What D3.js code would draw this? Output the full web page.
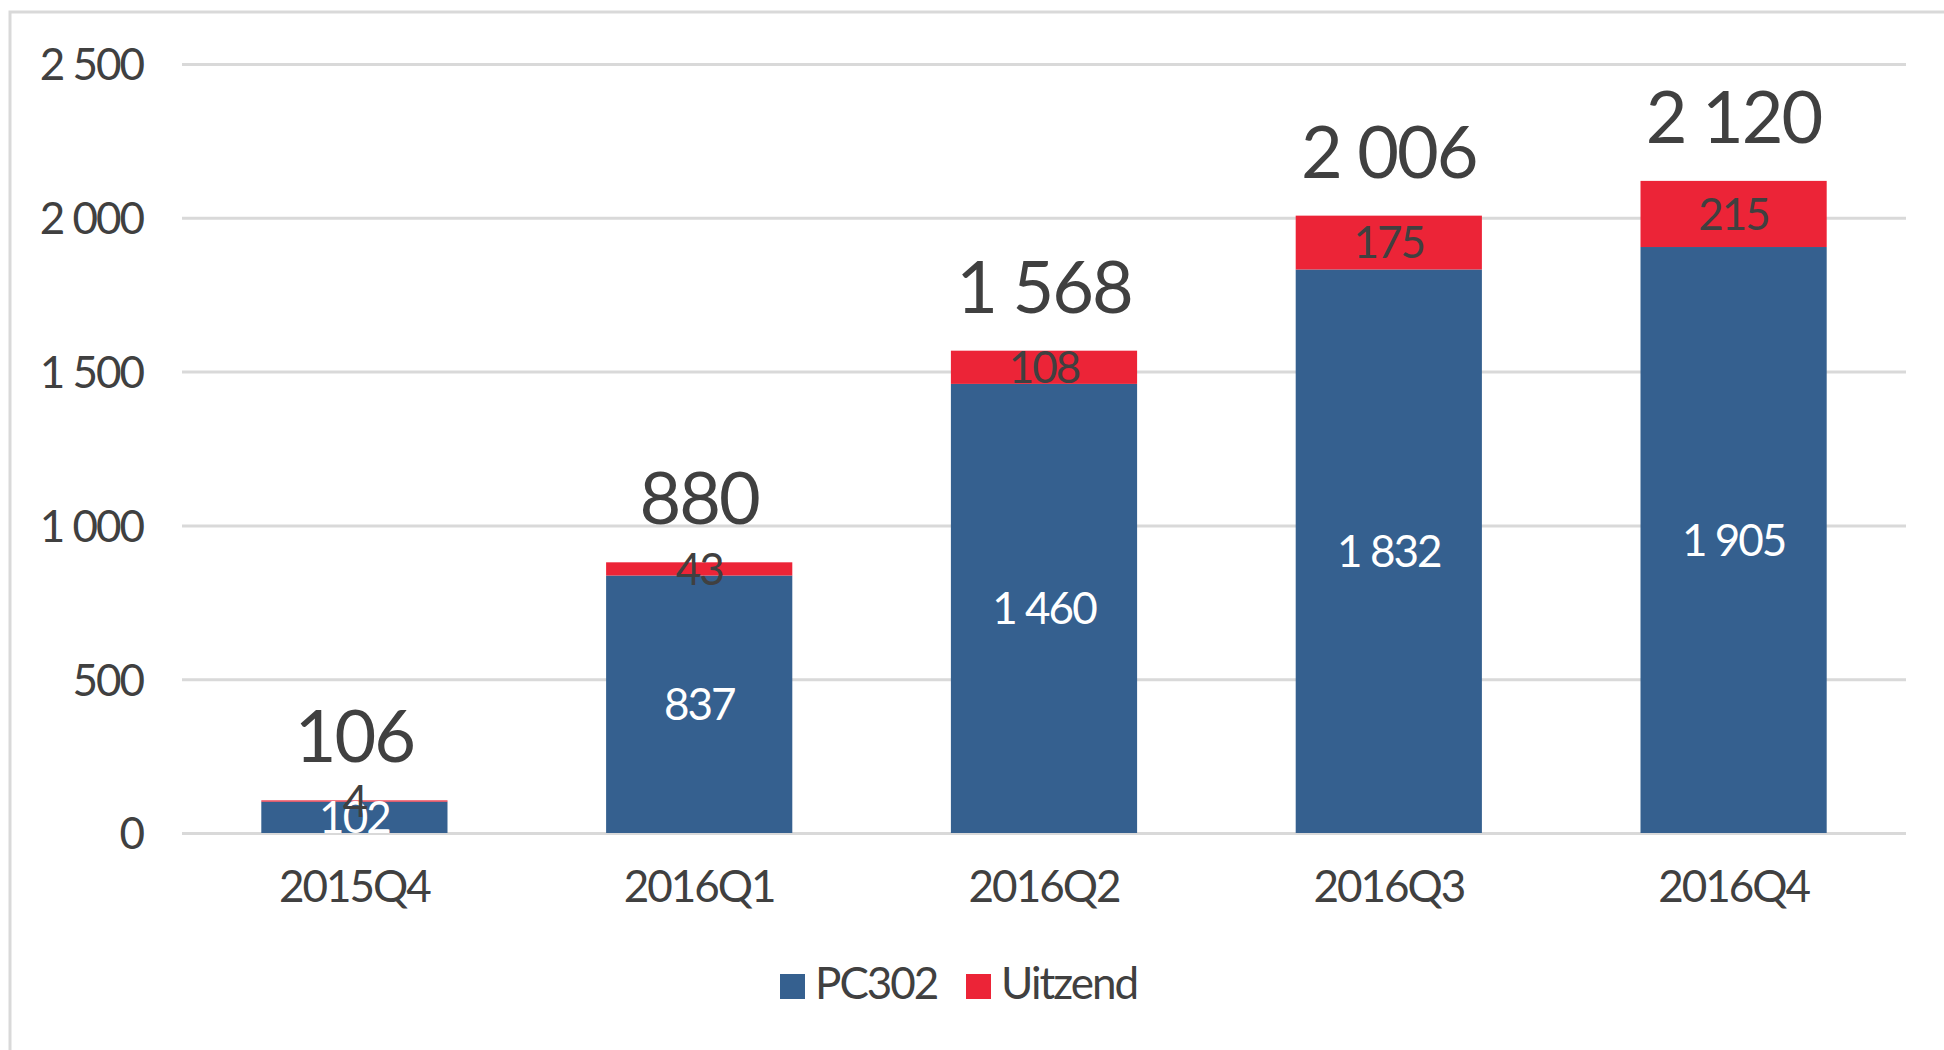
<!DOCTYPE html>
<head>
    <meta charset="utf-8">
    <script src="https://d3js.org/d3.v7.min.js"></script>
    <style>
        body { margin: 0; background: #fff; }
        svg { display: block; }
    </style>
</head>
<body>
<svg id="chart"></svg>
</body>

<script>
    // data
    var quarters = ["2015Q4", "2016Q1", "2016Q2", "2016Q3", "2016Q4"];
    var pc302 = [102, 837, 1460, 1832, 1905];
    var uitzend = [4, 43, 108, 175, 215];
    var totals = [106, 880, 1568, 2006, 2120];
    var yTicks = [0, 500, 1000, 1500, 2000, 2500];
    var seriesNames = ["PC302", "Uitzend"];

    var width = 1944, height = 1050;
    var blue = "#35608f", red = "#ec2437", ink = "#404040";
    var font = "Lato, 'Open Sans', sans-serif";

    // numbers with a space as thousands separator
    var fmt = d3.formatLocale({ decimal: ",", thousands: " ", grouping: [3], currency: ["", ""] }).format(",d");

    var svg = d3.select("#chart")
        .attr("width", width)
        .attr("height", height)
        .style("font-family", font)
        .style("letter-spacing", "-2px");

    // chart frame (only left and top edges are visible)
    svg.append("path")
        .attr("d", "M10," + height + "V12H" + width)
        .attr("fill", "none")
        .attr("stroke", "#d9d9d9")
        .attr("stroke-width", 3);

    var x = d3.scaleBand()
        .domain(quarters)
        .range([182, 1906])
        .paddingInner(0.46)
        .paddingOuter(0.23);

    var y = d3.scaleLinear()
        .domain([0, 2500])
        .range([833, 64]);

    // y axis with gridlines
    var yAxis = svg.append("g")
        .attr("transform", "translate(182,0)")
        .call(d3.axisLeft(y)
            .tickValues(yTicks)
            .tickFormat(fmt)
            .tickSize(-(1906 - 182))
            .tickPadding(39));
    yAxis.select(".domain").remove();
    yAxis.selectAll(".tick line")
        .attr("stroke", "#d9d9d9")
        .attr("stroke-width", 3);
    yAxis.selectAll(".tick text")
        .attr("fill", ink)
        .attr("dy", "0.36em")
        .style("font-family", font)
        .style("font-size", "44px");

    // x axis labels
    var xAxis = svg.append("g")
        .attr("transform", "translate(0," + y(0) + ")")
        .call(d3.axisBottom(x).tickSize(0).tickPadding(38));
    xAxis.select(".domain").remove();
    xAxis.selectAll(".tick text")
        .attr("fill", ink)
        .style("font-family", font)
        .style("font-size", "44px");

    // stacked bars
    var rows = quarters.map(function (q, i) {
        return { q: q, PC302: pc302[i], Uitzend: uitzend[i], total: totals[i] };
    });
    var stack = d3.stack().keys(seriesNames)(rows);
    var color = d3.scaleOrdinal().domain(seriesNames).range([blue, red]);
    var labelColor = d3.scaleOrdinal().domain(seriesNames).range(["#ffffff", ink]);

    var layers = svg.selectAll("g.layer")
        .data(stack)
        .enter().append("g")
        .attr("class", "layer")
        .attr("fill", function (d) { return color(d.key); });

    layers.selectAll("rect")
        .data(function (d) { return d; })
        .enter().append("rect")
        .attr("x", function (d) { return x(d.data.q); })
        .attr("width", x.bandwidth())
        .attr("y", function (d) { return y(d[1]); })
        .attr("height", function (d) { return y(d[0]) - y(d[1]); });

    // segment labels, centred in each segment
    stack.forEach(function (layer) {
        svg.append("g").selectAll("text")
            .data(layer)
            .enter().append("text")
            .attr("x", function (d) { return x(d.data.q) + x.bandwidth() / 2; })
            .attr("y", function (d) { return (y(d[0]) + y(d[1])) / 2; })
            .attr("dy", "0.36em")
            .attr("text-anchor", "middle")
            .attr("fill", labelColor(layer.key))
            .style("font-size", "44px")
            .text(function (d) { return fmt(d.data[layer.key]); });
    });

    // totals above the bars
    svg.append("g").selectAll("text")
        .data(rows)
        .enter().append("text")
        .attr("x", function (d) { return x(d.q) + x.bandwidth() / 2; })
        .attr("y", function (d) { return y(d.PC302 + d.Uitzend) - 38; })
        .attr("text-anchor", "middle")
        .attr("fill", ink)
        .style("font-size", "72px")
        .text(function (d) { return fmt(d.total); });

    // legend
    var legendX = [780, 966];
    var legend = svg.append("g").selectAll("g")
        .data(seriesNames)
        .enter().append("g")
        .attr("transform", function (d, i) { return "translate(" + legendX[i] + ",999)"; });
    legend.append("rect")
        .attr("y", -25)
        .attr("width", 25)
        .attr("height", 25)
        .attr("fill", function (d) { return color(d); });
    legend.append("text")
        .attr("x", 35)
        .attr("fill", ink)
        .style("font-size", "44px")
        .text(function (d) { return d; });
</script>
